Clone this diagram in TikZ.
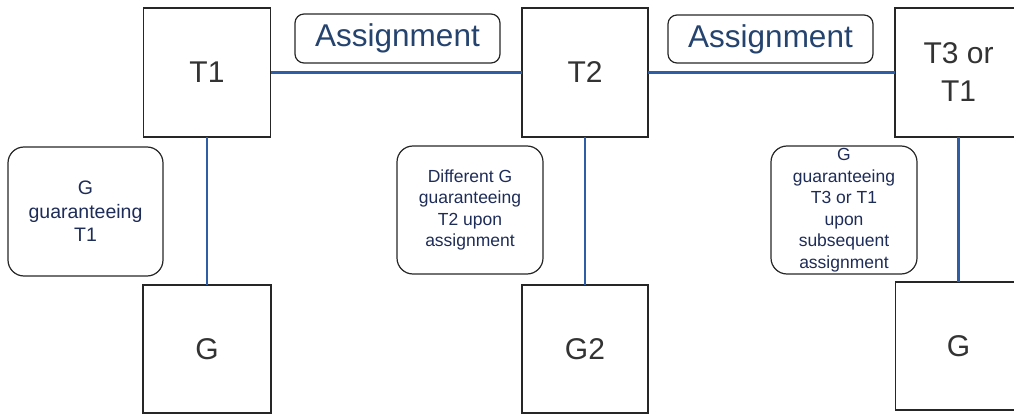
\documentclass[tikz,border=0pt]{standalone}
\usepackage{fontspec}
\setmainfont{Liberation Sans}
\definecolor{linkblue}{HTML}{2E5FA6}
\definecolor{labelblue}{HTML}{24436F}
\definecolor{notetext}{HTML}{1E2C58}
\definecolor{boxtext}{HTML}{333333}
\definecolor{edge}{HTML}{262626}
\begin{document}
\begin{tikzpicture}[x=1pt,y=-1pt,
  every node/.style={inner sep=0pt, outer sep=0pt},
  tbox/.style={draw=edge, line width=1.2pt, fill=white, align=center,
    text=boxtext, font=\fontsize{30}{38}\selectfont},
  abox/.style={draw=edge, line width=1.2pt, rounded corners=9pt, align=center,
    text=labelblue, font=\fontsize{31.5}{34}\selectfont},
  note/.style={draw=edge, line width=1.2pt, rounded corners=16pt, align=center,
    text=notetext},
  link/.style={draw=linkblue, line width=2.2pt}
]
\useasboundingbox (0,0) rectangle (1014,414);
\clip (0,0) rectangle (1014,414);

% top row of T boxes
\node[tbox, minimum width=127pt, minimum height=129pt] (t1) at (207,72.5) {T1};
\node[tbox, minimum width=126pt, minimum height=129pt] (t2) at (585,72.5) {T2};
\node[tbox, minimum width=127pt, minimum height=129pt] (t3) at (958.5,72.5) {T3 or\\T1};

% bottom row of G boxes
\node[tbox, minimum width=128pt, minimum height=128pt] (g1) at (207,349) {G};
\node[tbox, minimum width=126pt, minimum height=128pt] (g2) at (585,349) {G2};
\node[tbox, minimum width=126pt, minimum height=128pt] (g3) at (958.5,346) {G};

% assignment labels
\node[abox, minimum width=205pt, minimum height=49pt] (a1) at (397.5,38.5) {Assignment};
\node[abox, minimum width=205pt, minimum height=48pt] (a2) at (770.5,39) {Assignment};

% explanatory notes
\node[note, minimum width=155pt, minimum height=129pt, font=\fontsize{19.5}{23.5}\selectfont]
  (n1) at (85.5,211.5) {G\\guaranteeing\\T1};
\node[note, minimum width=146pt, minimum height=128pt, font=\fontsize{17.5}{21.5}\selectfont]
  (n2) at (470,210) {Different G\\guaranteeing\\T2 upon\\assignment};
\node[note, minimum width=146pt, minimum height=128pt, font=\fontsize{17.5}{21.5}\selectfont]
  (n3) at (844,210) {G\\guaranteeing\\T3 or T1\\upon\\subsequent\\assignment};

% connectors
\draw[link] (t1.east) -- (t2.west);
\draw[link] (t2.east) -- (t3.west);
\draw[link] (t1.south) -- (g1.north);
\draw[link] (t2.south) -- (g2.north);
\draw[link] (t3.south) -- (g3.north);
\end{tikzpicture}
\end{document}
